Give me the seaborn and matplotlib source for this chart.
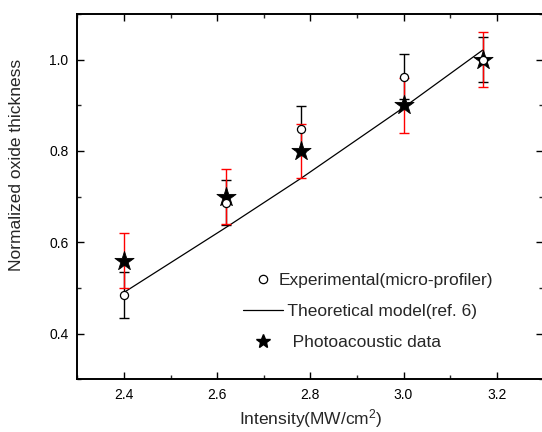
import numpy as np
import pandas as pd
import matplotlib
matplotlib.use("Agg")
import matplotlib.pyplot as plt
from matplotlib.lines import Line2D
from matplotlib.ticker import MultipleLocator
import seaborn as sns

# ---- data ----
intensity = [2.40, 2.62, 2.78, 3.00, 3.17]
exp_thickness = [0.485, 0.687, 0.848, 0.963, 1.000]
exp_err = [0.05, 0.05, 0.05, 0.05, 0.05]
pa_thickness = [0.560, 0.700, 0.800, 0.900, 1.000]
pa_err = [0.06, 0.06, 0.06, 0.06, 0.06]
model_x = [2.40, 2.62, 2.78, 3.00, 3.17]
model_y = [0.490, 0.633, 0.740, 0.895, 1.021]

x_ticks = [2.4, 2.6, 2.8, 3.0, 3.2]
y_ticks = [0.4, 0.6, 0.8, 1.0]

sns.set_style("ticks")
plt.rcParams["font.family"] = ["Liberation Sans", "DejaVu Sans"]
plt.rcParams["mathtext.fontset"] = "custom"
plt.rcParams["mathtext.rm"] = "Liberation Sans"
plt.rcParams["mathtext.it"] = "Liberation Sans:italic"

df_exp = pd.DataFrame({"x": intensity, "y": exp_thickness})
df_pa = pd.DataFrame({"x": intensity, "y": pa_thickness})
df_model = pd.DataFrame({"x": model_x, "y": model_y})

fig = plt.figure(figsize=(5.42, 4.32), dpi=100)
ax = fig.add_axes([77.3 / 542, (432 - 379.2) / 432, (543.3 - 77.3) / 542, (379.2 - 14) / 432])

# theoretical line
sns.lineplot(data=df_model, x="x", y="y", ax=ax, color="black", linewidth=0.9,
             zorder=2, legend=False)

# error bars
ax.errorbar(intensity, exp_thickness, yerr=exp_err, fmt="none", ecolor="black",
            elinewidth=1.0, capsize=3.5, capthick=1.0, zorder=3)
ax.errorbar(intensity, pa_thickness, yerr=pa_err, fmt="none", ecolor="#ff0000",
            elinewidth=1.0, capsize=3.8, capthick=1.0, zorder=4)

# stars
sns.scatterplot(data=df_pa, x="x", y="y", ax=ax, marker="*", s=210, color="black",
                edgecolor="black", linewidth=0.6, zorder=5, legend=False)
# circles
sns.scatterplot(data=df_exp, x="x", y="y", ax=ax, marker="o", s=34, facecolor="white",
                edgecolor="black", linewidth=0.9, zorder=6, legend=False)

ax.set_xlim(2.3, 3.3)
ax.set_ylim(0.3, 1.1)
ax.set_xticks(x_ticks)
ax.set_xticklabels([f"{v:.1f}" for v in x_ticks])
ax.set_yticks(y_ticks)
ax.set_yticklabels([f"{v:.1f}" for v in y_ticks])
ax.xaxis.set_minor_locator(MultipleLocator(0.1))
ax.yaxis.set_minor_locator(MultipleLocator(0.1))

for sp in ax.spines.values():
    sp.set_visible(True)
    sp.set_linewidth(1.4)
    sp.set_color("black")

ax.tick_params(which="major", direction="in", length=5.3, width=1.0, labelsize=10,
               pad=6.5, top=True, right=True, colors="black")
ax.tick_params(which="minor", direction="in", length=2.6, width=1.0,
               top=True, right=True)

ax.set_xlabel("Intensity(MW/cm$^{2}$)", fontsize=12.5)
ax.set_ylabel("Normalized oxide thickness", fontsize=12.5)
ax.xaxis.set_label_coords(0.5015, -0.076)
ax.yaxis.set_label_coords(-0.114, 0.588)

handles = [
    Line2D([], [], linestyle="none", marker="o", markersize=6, markerfacecolor="white",
           markeredgecolor="black", markeredgewidth=0.9),
    Line2D([], [], color="black", linewidth=0.9),
    Line2D([], [], linestyle="none", marker="*", markersize=10, color="black"),
]
labels = ["Experimental(micro-profiler)", "  Theoretical model(ref. 6)", "   Photoacoustic data"]
ax.legend(handles, labels, loc="upper left", bbox_to_anchor=(0.355, 0.292),
          frameon=False, fontsize=12.5, handlelength=2.3, handletextpad=-0.25,
          labelspacing=0.92, borderpad=0, borderaxespad=0)

fig.savefig("out.png", dpi=100)
